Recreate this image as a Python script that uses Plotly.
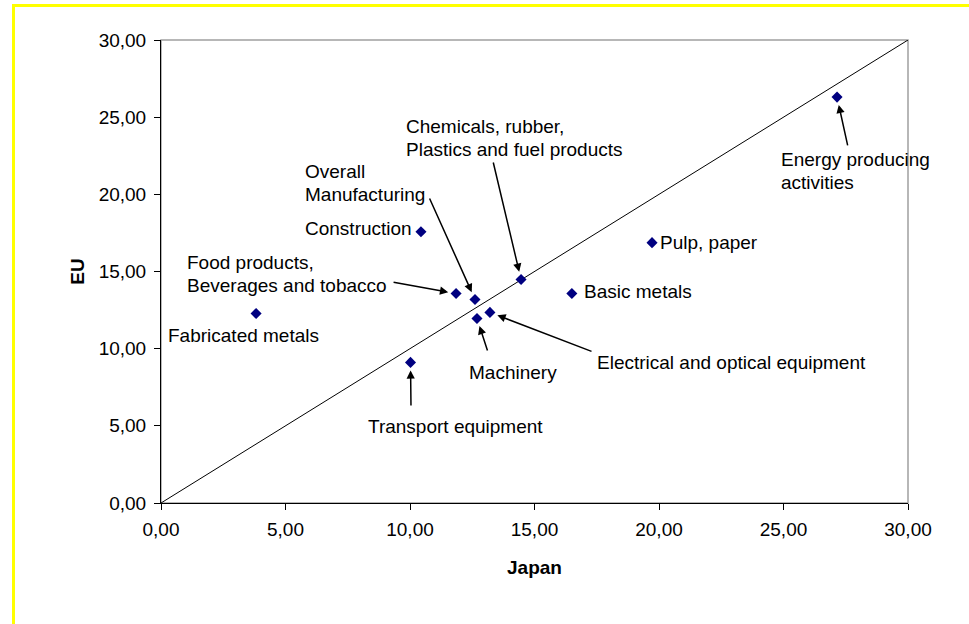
import plotly.graph_objects as go

# ---- data ----
categories = [
    "Energy producing activities", "Pulp, paper", "Chemicals, rubber, Plastics and fuel products",
    "Overall Manufacturing", "Construction", "Food products, Beverages and tobacco",
    "Fabricated metals", "Basic metals", "Machinery", "Electrical and optical equipment",
    "Transport equipment",
]
japan = [27.15, 19.72, 14.46, 12.61, 10.44, 11.85, 3.82, 16.50, 12.69, 13.21, 10.02]
eu = [26.30, 16.87, 14.48, 13.19, 17.58, 13.57, 12.28, 13.57, 11.96, 12.35, 9.11]
diag_x = [0, 30]
diag_y = [0, 30]
tick_values = [0, 5, 10, 15, 20, 25, 30]

# label lines, placement of first line (x, y, anchor); arrow tails (ax, ay) or None
labels = [
    (["Energy producing", "activities"], 24.82, 22.23, "left", (27.59, 23.07)),
    (["Pulp, paper"], 19.95, 16.86, "left", None),
    (["Chemicals, rubber,", "Plastics and fuel products"], 9.75, 24.37, "left", (13.33, 22.16)),
    (["Overall", "Manufacturing"], 5.72, 21.46, "left", (10.76, 19.83)),
    (["Construction"], 10.18, 17.77, "right", None),
    (["Food products,", "Beverages and tobacco"], 0.95, 15.57, "left", (9.28, 14.32)),
    (["Fabricated metals"], 0.22, 10.84, "left", None),
    (["Basic metals"], 16.9, 13.69, "left", None),
    (["Machinery"], 12.28, 8.45, "left", (13.13, 9.79)),
    (["Electrical and optical equipment"], 17.42, 9.09, "left", (17.35, 9.79)),
    (["Transport equipment"], 8.22, 4.95, "left", (10.04, 6.22)),
]
LINE_STEP_PX = 22.5

FONT = "Liberation Sans, Arial, sans-serif"

fig = go.Figure()
fig.add_trace(go.Scatter(x=diag_x, y=diag_y, mode="lines",
                         line=dict(color="black", width=1), hoverinfo="skip", showlegend=False))
fig.add_trace(go.Scatter(x=japan, y=eu, mode="markers", text=categories,
                         marker=dict(symbol="diamond", size=8.5, color="#000080"),
                         showlegend=False))

annotations = []
for i, (lines, tx, ty, anchor, tail) in enumerate(labels):
    for k, line in enumerate(lines):
        annotations.append(dict(x=tx, y=ty, xref="x", yref="y", text=line, showarrow=False,
                                xanchor=anchor, yanchor="middle", align="left",
                                yshift=-LINE_STEP_PX * k,
                                font=dict(family=FONT, size=19, color="black")))
    if tail is not None:
        annotations.append(dict(x=japan[i], y=eu[i], xref="x", yref="y",
                                ax=tail[0], ay=tail[1], axref="x", ayref="y",
                                text="", showarrow=True, arrowhead=2, arrowsize=1.1,
                                arrowwidth=1.5, arrowcolor="black", standoff=8))

shapes = [
    # gray plot-area frame
    dict(type="rect", xref="paper", yref="paper", x0=0, x1=1, y0=0, y1=1,
         line=dict(color="#a0a0a0", width=1.5), layer="below"),
    # yellow outer frame (top and left)
    dict(type="line", xref="paper", yref="paper", x0=(13 - 161) / 747, x1=(969 - 161) / 747,
         y0=(503 - 5.5) / 463, y1=(503 - 5.5) / 463, line=dict(color="#FFFF00", width=3)),
    dict(type="line", xref="paper", yref="paper", x0=(13.5 - 161) / 747, x1=(13.5 - 161) / 747,
         y0=(503 - 4) / 463, y1=(503 - 630) / 463, line=dict(color="#FFFF00", width=3)),
]

axis_common = dict(range=[0, 30], tickvals=tick_values, tickformat=".2f",
                   showgrid=False, zeroline=False, showline=True, linecolor="black",
                   linewidth=1, ticks="outside", ticklen=6, tickcolor="black",
                   tickfont=dict(family=FONT, size=19, color="black"))

fig.update_layout(
    width=969, height=624,
    margin=dict(l=161, r=61, t=40, b=121),
    paper_bgcolor="white", plot_bgcolor="white",
    separators=",.",
    xaxis=dict(**axis_common, ticklabelstandoff=3,
               title=dict(text="<b>Japan</b>", standoff=21,
                          font=dict(family=FONT, size=19, color="black"))),
    yaxis=dict(**axis_common, ticklabelstandoff=4,
               title=dict(text="<b>EU</b>", standoff=9,
                          font=dict(family=FONT, size=19, color="black"))),
    annotations=annotations,
    shapes=shapes,
)

fig.write_html("out.html", config={"displayModeBar": False},
               post_script="document.body.style.margin='0';document.body.style.padding='0';")
